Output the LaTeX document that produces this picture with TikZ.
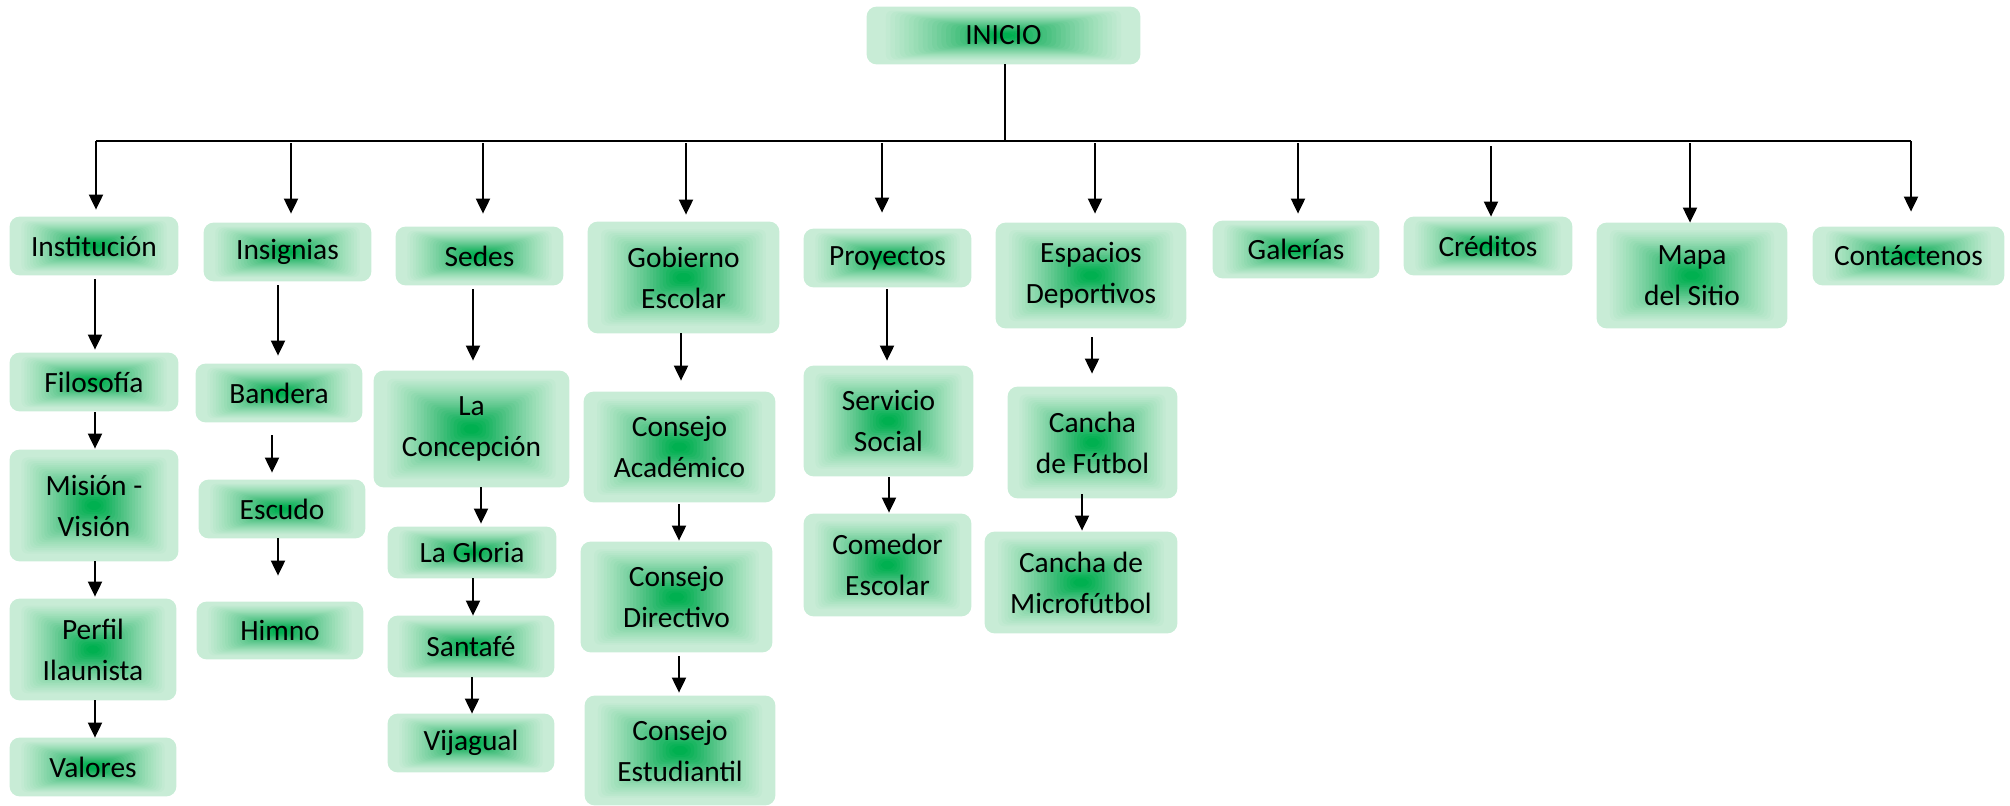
\documentclass[tikz,border=0pt]{standalone}
\usepackage{fontspec}
\setmainfont{Carlito}
\usetikzlibrary{arrows.meta,calc}
\pgfdeclarelayer{background}
\pgfsetlayers{background,main}
\definecolor{mint}{RGB}{200,236,214}
\definecolor{glowg}{RGB}{0,176,80}
\tikzset{
  bx/.style={rounded corners=5pt, inner sep=0pt, align=center,
    font=\fontsize{14.7}{20.5}\selectfont, text=black},
  arr/.style={line width=1pt, -{Triangle[length=7.5pt,width=7pt]}},
  trunkline/.style={line width=1pt},
  barline/.style={line width=1.4pt},
}
\newcommand\bx[6]{\node[bx, minimum width={(#4-#2)*0.5pt}, minimum height={(#5-#3)*0.5pt}] (#1) at ({(#2+#4)/2},{(#3+#5)/2}) {#6};}
\newcommand\glowbox[1]{%
  \fill[mint, rounded corners=5pt] (#1.south west) rectangle (#1.north east);
  \foreach \k in {1,...,24}{%
    \pgfmathsetmacro\s{0.86-0.78*(\k-1)/23}%
    \pgfmathsetmacro\ua{(\k-1)/24}%
    \pgfmathsetmacro\ub{\k/24}%
    \pgfmathsetmacro\ca{0.65*\ua+0.35*\ua*\ua}%
    \pgfmathsetmacro\cb{0.65*\ub+0.35*\ub*\ub}%
    \pgfmathsetmacro\al{(\cb-\ca)/(1-\ca)}%
    \fill[glowg, opacity=\al, rounded corners=3pt] ($(#1.center)!\s!(#1.south west)$) rectangle ($(#1.center)!\s!(#1.north east)$);
  }}
\newcommand\link[7]{\draw[arr] ($(#1.south)+(#3,#4)$) -- ($(#2.north)+(#5,#6)$);}
\begin{document}
\begin{tikzpicture}[x=0.5pt,y=-0.5pt]
\useasboundingbox (0,0) rectangle (2010,805);
\bx{inicio}{867}{7}{1140}{64}{INICIO}
\bx{inst}{10}{217}{178}{275}{Institución}
\bx{filo}{10}{353}{178}{411}{Filosofía}
\bx{mis}{10}{450}{178}{561}{Misión -\\Visión}
\bx{per}{10}{599}{176}{700}{Perfil\\Ilaunista}
\bx{val}{10}{738}{176}{796}{Valores}
\bx{ins}{204}{223}{371}{281}{Insignias}
\bx{ban}{196}{364}{362}{422}{Bandera}
\bx{esc}{199}{480}{365}{538}{Escudo}
\bx{him}{197}{602}{363}{659}{Himno}
\bx{sed}{396}{227}{563}{285}{Sedes}
\bx{lac}{374}{371}{569}{487}{La\\Concepción}
\bx{lag}{388}{527}{556}{578}{La Gloria}
\bx{san}{388}{616}{554}{677}{Santafé}
\bx{vij}{388}{714}{554}{772}{Vijagual}
\bx{gob}{588}{222}{779}{333}{Gobierno\\Escolar}
\bx{cac}{584}{392}{775}{502}{Consejo\\Académico}
\bx{cdi}{581}{542}{772}{652}{Consejo\\Directivo}
\bx{ces}{585}{696}{775}{805}{Consejo\\Estudiantil}
\bx{proy}{804}{229}{971}{287}{Proyectos}
\bx{ser}{804}{366}{973}{476}{Servicio\\Social}
\bx{com}{804}{514}{971}{616}{Comedor\\Escolar}
\bx{esp}{996}{223}{1186}{328}{Espacios\\Deportivos}
\bx{caf}{1008}{387}{1177}{498}{Cancha\\de Fútbol}
\bx{cam}{985}{532}{1177}{633}{Cancha de\\Microfútbol}
\bx{gal}{1213}{221}{1379}{278}{Galerías}
\bx{cre}{1404}{217}{1572}{275}{Créditos}
\bx{map}{1597}{223}{1787}{328}{Mapa\\del Sitio}
\bx{con}{1813}{227}{2004}{285}{Contáctenos}
\begin{pgfonlayer}{background}
\foreach \n in {inicio,inst,filo,mis,per,val,ins,ban,esc,him,sed,lac,lag,san,vij,gob,cac,cdi,ces,proy,ser,com,esp,caf,cam,gal,cre,map,con}{\glowbox{\n}}
\end{pgfonlayer}
% trunk and bar
\coordinate (bT) at (1005,141);
\coordinate (bL) at (96,141);
\coordinate (bR) at (1911,141);
\draw[trunkline] ($(inicio.south)+(1.5,0)$) -- (bT);
\draw[barline] (bL) -- (bR);
% top arrows
\foreach \n/\x/\ys/\dx/\dy in {inst/96/141/2/-7, ins/291/143/3.5/-9, sed/483/143/3.5/-13, gob/686/143/2.5/-7, proy/882/143/-5.5/-16, esp/1095/143/4/-9, gal/1298/143/2/-7, cre/1491/146/3/0, map/1690/143/-2/0, con/1911/141/2.5/-15}{
  \coordinate (top-\n) at (\x,\ys);
  \draw[arr] (top-\n) -- ($(\n.north)+(\dx,\dy)$);
}
% column connectors
\link{inst}{filo}{1}{4}{1}{-3}{}
\link{filo}{mis}{1}{1}{1}{-1}{}
\link{mis}{per}{1}{0}{2}{-2}{}
\link{per}{val}{2}{0}{2}{0}{}
\link{ins}{ban}{-9.5}{4}{-1}{-8}{}
\link{ban}{esc}{-7}{13}{-10}{-7}{}
\link{esc}{him}{-4}{0}{-2}{-26}{}
\link{sed}{lac}{-6.5}{4}{1.5}{-10}{}
\link{lac}{lag}{9.5}{0}{9}{-3}{}
\link{lag}{san}{1}{0}{2}{0}{}
\link{san}{vij}{1}{0}{1}{0}{}
\link{gob}{cac}{-2.5}{0}{1.5}{-11}{}
\link{cac}{cdi}{-0.5}{2}{2.5}{-1}{}
\link{cdi}{ces}{2.5}{4}{-1}{-3}{}
\link{proy}{ser}{-0.5}{2}{-1.5}{-5}{}
\link{ser}{com}{0.5}{1}{1.5}{-1}{}
\link{esp}{caf}{1}{9}{-0.5}{-13}{}
\link{caf}{cam}{-10.5}{-4}{1}{-1}{}
\end{tikzpicture}
\end{document}
